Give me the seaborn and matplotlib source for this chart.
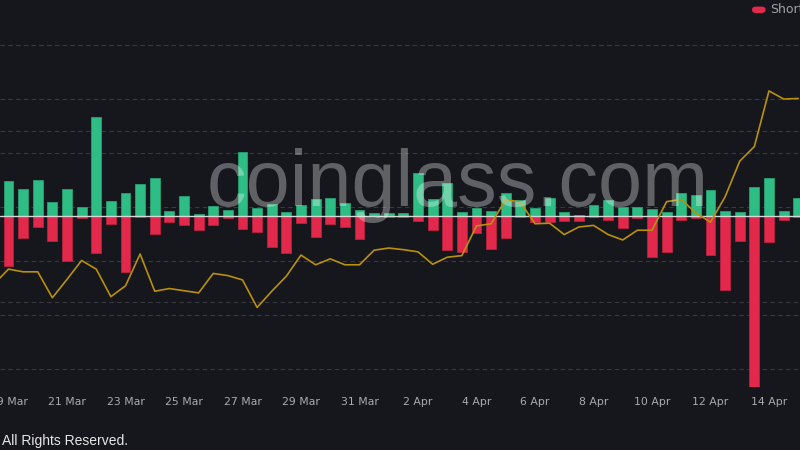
import numpy as np
import pandas as pd
import matplotlib
matplotlib.use("Agg")
import matplotlib.pyplot as plt
from matplotlib.patches import FancyBboxPatch
import seaborn as sns

# liquidation bars, one per 12h, in millions (longs up, shorts down)
longs = [0.413, 0.319, 0.418, 0.164, 0.319, 0.102, 1.161, 0.175, 0.273, 0.374,
         0.441, 0.062, 0.230, 0.020, 0.117, 0.074, 0.745, 0.097, 0.140, 0.047,
         0.125, 0.199, 0.214, 0.156, 0.070, 0.032, 0.032, 0.032, 0.499, 0.199,
         0.382, 0.047, 0.097, 0.055, 0.265, 0.184, 0.090, 0.207, 0.047, 0.012,
         0.125, 0.184, 0.109, 0.102, 0.078, 0.047, 0.265, 0.242, 0.304, 0.062,
         0.047, 0.336, 0.448, 0.055, 0.211]
shorts = [-0.585, -0.261, -0.125, -0.296, -0.526, -0.027, -0.436, -0.094, -0.658, -0.008,
          -0.214, -0.067, -0.102, -0.160, -0.102, -0.023, -0.149, -0.191, -0.363, -0.436,
          -0.082, -0.249, -0.090, -0.132, -0.269, -0.015, -0.008, -0.015, -0.058, -0.164,
          -0.394, -0.418, -0.202, -0.389, -0.254, -0.008, -0.067, -0.067, -0.058, -0.055,
          -0.006, -0.047, -0.144, -0.027, -0.476, -0.418, -0.047, -0.027, -0.456, -0.865,
          -0.292, -1.996, -0.308, -0.047, -0.015]
# price line starts one slot earlier than the bars
price = [61.57, 61.85, 61.80, 61.80, 61.32, 61.66, 62.01, 61.85, 61.34, 61.54,
         62.13, 61.44, 61.49, 61.45, 61.41, 61.77, 61.73, 61.65, 61.14, 61.44,
         61.72, 62.11, 61.93, 62.04, 61.93, 61.93, 62.20, 62.24, 62.21, 62.17,
         61.94, 62.07, 62.10, 62.65, 62.69, 63.14, 63.09, 62.69, 62.70, 62.49,
         62.63, 62.66, 62.49, 62.39, 62.57, 62.57, 63.10, 63.14, 62.89, 62.72,
         63.19, 63.85, 64.12, 65.15, 65.00, 65.01]
tick_labels = ["19 Mar", "21 Mar", "23 Mar", "25 Mar", "27 Mar", "29 Mar", "31 Mar",
               "2 Apr", "4 Apr", "6 Apr", "8 Apr", "10 Apr", "12 Apr", "14 Apr"]

BG = "#16171c"
GREEN = "#2ebd85"
RED = "#e2294b"
GOLD = "#b8900e"
GRID = "#393a40"

sns.set_style("dark", {"axes.facecolor": BG, "figure.facecolor": BG})
plt.rcParams["font.family"] = ["DejaVu Sans"]

slots = np.arange(len(longs))
df = pd.DataFrame({"slot": slots, "longs": longs, "shorts": shorts})
price_slots = np.arange(-1, len(longs))

fig = plt.figure(figsize=(8, 4.5), dpi=100, facecolor=BG)
rect = [0, 0.14, 1, 0.76]
ax = fig.add_axes(rect)
ax_grid = ax.twinx()   # price gridlines, behind bars
ax_line = ax.twinx()   # price line, above bars
ax_grid.set_zorder(0)
ax.set_zorder(1)
ax_line.set_zorder(2)
for a in (ax, ax_grid, ax_line):
    a.patch.set_visible(False)
    for s in a.spines.values():
        s.set_visible(False)

sns.barplot(data=df, x="slot", y="longs", color=GREEN, width=0.68,
            edgecolor="#26a070", linewidth=0.6, saturation=1, ax=ax)
sns.barplot(data=df, x="slot", y="shorts", color=RED, width=0.68,
            edgecolor="#b8223f", linewidth=0.6, saturation=1, ax=ax)
ax.axhline(0, color="#d6d6d6", lw=1, zorder=5)

sns.lineplot(x=price_slots, y=price, color=GOLD, lw=1.2, ax=ax_line)

ax.set_ylim(-2, 2)
ax.set_yticks([-2, -1, 1, 2])
ax.grid(axis="y", color=GRID, lw=0.8, ls=(0, (4, 3)))
ax.grid(axis="x", visible=False)
ax.set_axisbelow(True)

plim = (59.667, 66)
ax_grid.set_ylim(plim)
ax_line.set_ylim(plim)
ax_grid.set_yticks(np.arange(60, 67))
ax_grid.grid(axis="y", color=GRID, lw=0.8, ls=(0, (4, 3)))
ax_line.grid(False)

ax.set_xlim(-0.58, 54.12)
ax.set_xticks(slots[::4])
ax.set_xticklabels(tick_labels)
ax.set_xlabel("")
ax.set_ylabel("")
ax_line.set_ylabel("")
ax.tick_params(axis="x", length=0, pad=7, labelsize=7.8, labelcolor="#a9a9ae")
ax.tick_params(axis="y", length=0, labelleft=False)
for a in (ax_grid, ax_line):
    a.tick_params(axis="y", length=0, labelright=False)
    a.tick_params(axis="x", length=0)

# watermark
fig.text(0.572, 0.542, "coinglass.com", ha="center", va="baseline",
         fontsize=57, family="Liberation Sans", color="white", alpha=0.32, zorder=10)

# legend (cropped on the right)
fig.patches.append(FancyBboxPatch((0.941, 0.9727), 0.015, 0.0111,
                                  boxstyle="round,pad=0,rounding_size=0.004",
                                  transform=fig.transFigure, color=RED))
fig.text(0.9625, 0.978, "Shorts", ha="left", va="center", fontsize=9,
         color="#a0a0a6")

fig.text(0.003, 0.011, "All Rights Reserved.", ha="left", va="baseline",
         fontsize=10, family="Liberation Sans", color="#e6e6e6")

fig.savefig("out.png", dpi=100, facecolor=BG)
